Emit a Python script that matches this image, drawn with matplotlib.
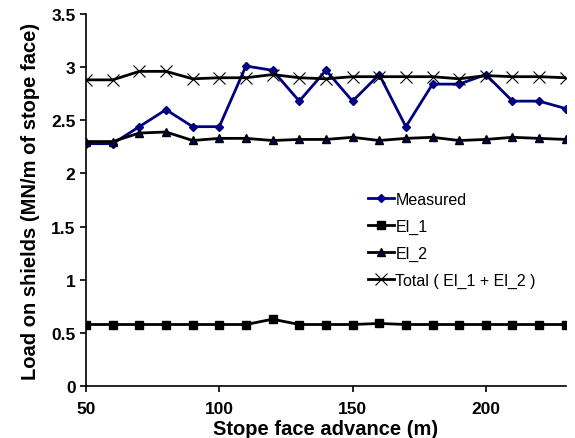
import matplotlib
matplotlib.use('Agg')
import matplotlib.pyplot as plt

plt.rcParams['font.family'] = ['Liberation Sans', 'DejaVu Sans']

advance = [50, 60, 70, 80, 90, 100, 110, 120, 130, 140,
           150, 160, 170, 180, 190, 200, 210, 220, 230]
measured = [2.28, 2.28, 2.44, 2.60, 2.44, 2.44, 3.01, 2.97, 2.68, 2.97,
            2.68, 2.93, 2.44, 2.84, 2.84, 2.93, 2.68, 2.68, 2.61]
el_1 = [0.58, 0.58, 0.58, 0.58, 0.58, 0.58, 0.58, 0.63, 0.58, 0.58,
        0.58, 0.59, 0.58, 0.58, 0.58, 0.58, 0.58, 0.58, 0.58]
el_2 = [2.30, 2.30, 2.38, 2.39, 2.31, 2.33, 2.33, 2.31, 2.32, 2.32,
        2.34, 2.31, 2.33, 2.34, 2.31, 2.32, 2.34, 2.33, 2.32]
total = [2.88, 2.88, 2.96, 2.96, 2.89, 2.90, 2.90, 2.93, 2.90, 2.89,
         2.91, 2.91, 2.91, 2.91, 2.89, 2.92, 2.91, 2.91, 2.90]

fig = plt.figure(figsize=(5.75, 4.39), dpi=100)
ax = fig.add_axes([0.1496, 0.118, 0.8344, 0.848])

ax.plot(advance, measured, color='#000080', lw=2, marker='D', ms=4.5,
        mfc='#000080', mec='#000080', label='Measured')
ax.plot(advance, el_1, color='black', lw=2, marker='s', ms=6,
        mfc='black', mec='black', label='El_1')
ax.plot(advance, el_2, color='black', lw=2, marker='^', ms=6,
        mfc='#000050', mec='black', label='El_2')
ax.plot(advance, total, color='black', lw=2, marker='x', ms=9,
        mew=0.8, label='Total ( El_1 + El_2 )')

ax.set_xlim(50, 230)
ax.set_ylim(0, 3.5)
ax.set_xticks([50, 100, 150, 200])
ax.set_yticks([0, 0.5, 1, 1.5, 2, 2.5, 3, 3.5])
ax.set_yticklabels(['0', '0.5', '1', '1.5', '2', '2.5', '3', '3.5'])
for s in ['top', 'right']:
    ax.spines[s].set_visible(False)
for s in ['left', 'bottom']:
    ax.spines[s].set_linewidth(1.2)
ax.tick_params(direction='out', length=4, width=1.2, labelsize=12.5)
ax.tick_params(axis='x', pad=7)
for lbl in ax.get_xticklabels() + ax.get_yticklabels():
    lbl.set_fontweight('bold')

ax.set_xlabel('Stope face advance (m)', fontsize=14.5, fontweight='bold', labelpad=2)
ax.set_ylabel('Load on shields (MN/m of stope face)', fontsize=14.5,
              fontweight='bold', labelpad=8)

ax.legend(loc='upper left', bbox_to_anchor=(0.575, 0.54), frameon=False,
          fontsize=11.5, handlelength=1.6, handletextpad=0.1,
          labelspacing=0.75, borderaxespad=0)

fig.savefig('out.png', dpi=100)
